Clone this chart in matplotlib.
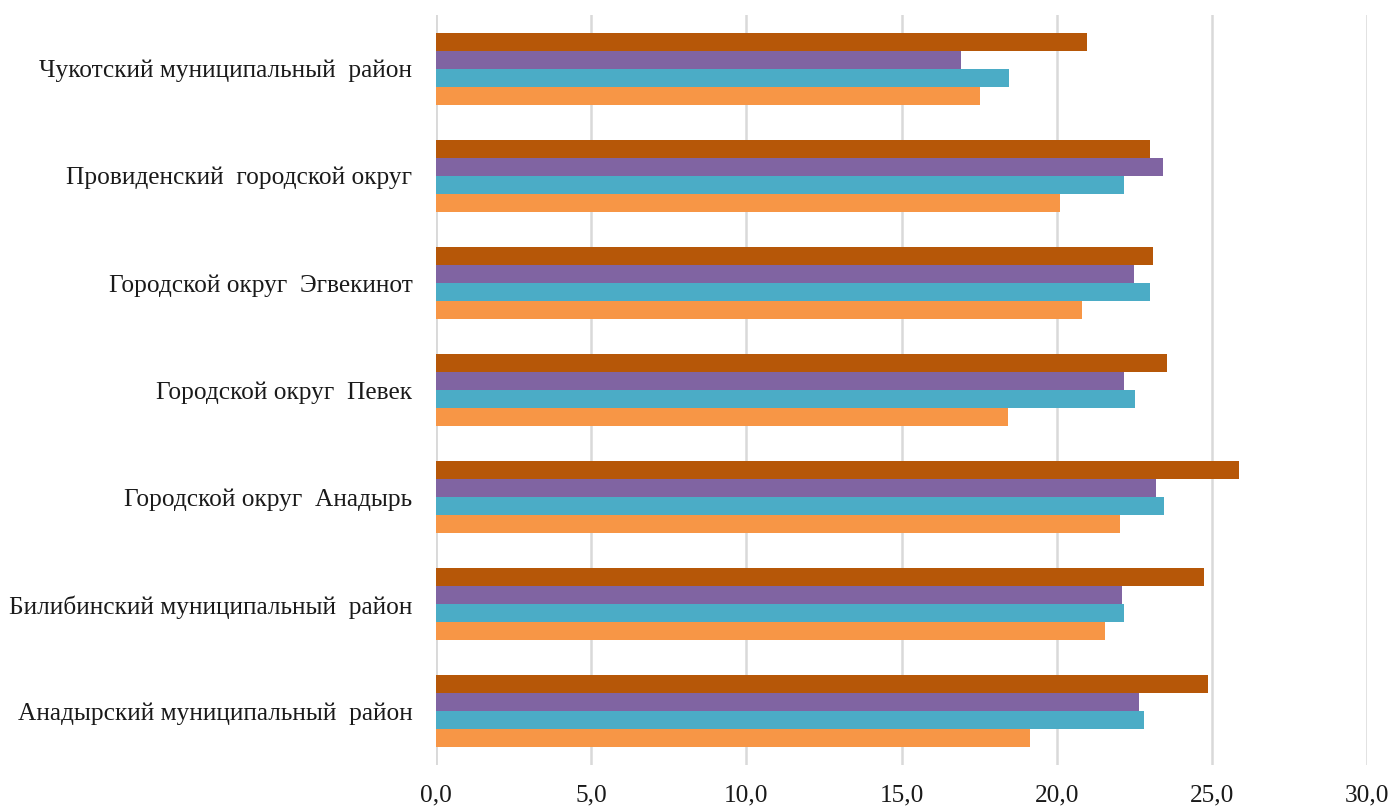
import matplotlib
matplotlib.use("Agg")
import matplotlib.pyplot as plt
import numpy as np
from matplotlib.ticker import FuncFormatter

categories = [
    "Анадырский муниципальный  район",
    "Билибинский муниципальный  район",
    "Городской округ  Анадырь",
    "Городской округ  Певек",
    "Городской округ  Эгвекинот",
    "Провиденский  городской округ",
    "Чукотский муниципальный  район",
]
series_orange = [19.15, 21.55, 22.05, 18.43, 20.83, 20.10, 17.53]
series_teal = [22.83, 22.18, 23.45, 22.54, 23.00, 22.17, 18.47]
series_purple = [22.65, 22.10, 23.21, 22.18, 22.50, 23.42, 16.92]
series_brown = [24.89, 24.76, 25.88, 23.54, 23.10, 23.01, 20.98]

series = [series_orange, series_teal, series_purple, series_brown]
colors = ["#F79646", "#4BACC6", "#8064A2", "#B65708"]

plt.rcParams['font.family'] = ['Liberation Serif', 'DejaVu Serif']

fig = plt.figure(figsize=(13.92, 8.07), dpi=100)
ax = fig.add_axes([436/1392, 1-765/807, (1367-436)/1392, (765-15)/807])

y = np.arange(len(categories))
h = 18/107
for k, (vals, c) in enumerate(zip(series, colors)):
    ax.barh(y + (k - 1.5) * h, vals, height=h, color=c, zorder=3)

ax.set_xlim(0, 30)
ax.set_ylim(-0.5, len(categories) - 0.5)
ax.set_xticks(np.arange(0, 31, 5))
ax.xaxis.set_major_formatter(FuncFormatter(lambda v, p: f"{v:.1f}".replace('.', ',')))
ax.set_yticks(y)
ax.set_yticklabels(categories)
ax.grid(axis='x', color='#D9D9D9', linewidth=1.8, zorder=0)
for s in ax.spines.values():
    s.set_visible(False)
ax.axvline(0, color='#D9D9D9', linewidth=1.8, zorder=1)
ax.tick_params(axis='both', length=0, labelsize=18.3, colors='#1a1a1a')
ax.tick_params(axis='y', pad=17)
ax.tick_params(axis='x', pad=14)

fig.savefig("out.png", dpi=100, facecolor='white')
